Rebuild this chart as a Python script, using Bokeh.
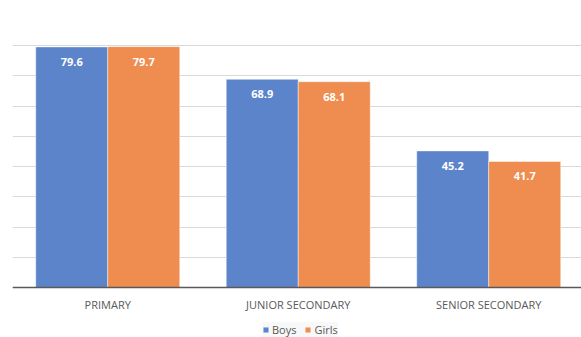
from bokeh.plotting import figure
from bokeh.models import ColumnDataSource, Legend, LegendItem, FixedTicker, Range1d, Span
from bokeh.core.properties import value
from bokeh.embed import file_html
from bokeh.resources import INLINE

# Completion rates by level and sex
levels = ["PRIMARY", "JUNIOR SECONDARY", "SENIOR SECONDARY"]
boys = [79.6, 68.9, 45.2]
girls = [79.7, 68.1, 41.7]
series_names = ["Boys", "Girls"]
grid_ticks = [0, 10, 20, 30, 40, 50, 60, 70, 80, 90]

BLUE = "#5B84CB"
ORANGE = "#EE8D4F"
TEXT = "#595959"
FONT = "Open Sans"

pos = list(range(len(levels)))
bar_w = 0.378
off = bar_w / 2

src_b = ColumnDataSource(dict(x=[p - off for p in pos], top=boys,
                              lbl=[f"{v:.1f}" for v in boys]))
src_g = ColumnDataSource(dict(x=[p + off for p in pos], top=girls,
                              lbl=[f"{v:.1f}" for v in girls]))
src_cat = ColumnDataSource(dict(x=pos, y=[0] * len(pos), name=levels))

# plot area runs down to the bottom edge; the value range below zero
# leaves room for the category names and the legend
p = figure(frame_width=569, frame_height=322, output_backend="svg",
           toolbar_location=None,
           x_range=Range1d(-0.5, 2.487), y_range=Range1d(-16.54, 90),
           min_border_left=12, min_border_right=0, min_border_top=15,
           min_border_bottom=0)
p.outline_line_color = None
p.background_fill_color = "white"
p.xaxis.visible = False
p.yaxis.visible = False

p.ygrid.ticker = FixedTicker(ticks=grid_ticks)
p.ygrid.grid_line_color = "#D9D9D9"
p.ygrid.grid_line_width = 1
p.xgrid.visible = False

rb = p.vbar(x="x", top="top", bottom=0, width=bar_w, source=src_b,
            fill_color=BLUE, line_color="white", line_alpha=0.45, line_width=1)
rg = p.vbar(x="x", top="top", bottom=0, width=bar_w, source=src_g,
            fill_color=ORANGE, line_color="white", line_alpha=0.45, line_width=1)

for src in (src_b, src_g):
    p.text(x="x", y="top", text="lbl", source=src, text_color="white",
           text_font=value(FONT), text_font_style="bold", text_font_size="11px",
           text_align="center", text_baseline="middle", y_offset=15)

# baseline and category names
p.add_layout(Span(location=0, dimension="width", line_color="#595959",
                  line_width=1.5))
p.text(x="x", y="y", text="name", source=src_cat, text_color=TEXT,
       text_font=value(FONT), text_font_size="11px",
       text_align="center", text_baseline="middle", y_offset=17)

legend = Legend(items=[LegendItem(label=series_names[0], renderers=[rb]),
                       LegendItem(label=series_names[1], renderers=[rg])],
                orientation="horizontal", location=(250, 0),
                glyph_width=7, glyph_height=7, spacing=8,
                label_text_font=FONT, label_text_font_size="11px",
                label_text_color=TEXT, label_standoff=3,
                label_height=12,
                padding=2, margin=0,
                background_fill_color="#F8F8F8", border_line_color=None)
p.add_layout(legend)

open("out.html", "w").write(file_html(p, INLINE))
